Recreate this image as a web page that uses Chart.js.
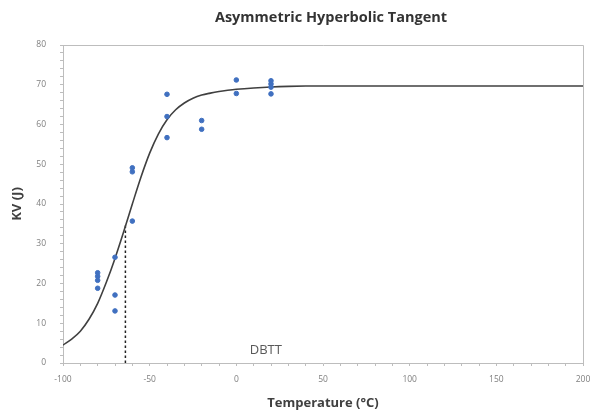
<!DOCTYPE html>
<html>
<head>
<meta charset="utf-8">
<script src="https://cdn.jsdelivr.net/npm/chart.js@4/dist/chart.umd.min.js"></script>
<style>
  html, body { margin: 0; padding: 0; background: #ffffff; }
  #wrap { width: 592px; height: 412px; position: relative; }
</style>
</head>
<body>
<div id="wrap"><canvas id="c" width="592" height="412"></canvas></div>
<script>
// Observed Charpy impact energies
const obsTemps = [-80, -80, -80, -80, -70, -70, -70, -60, -60, -60, -40, -40, -40, -20, -20, 0, 0, 20, 20, 20, 20];
const obsKV    = [22.7, 21.8, 20.8, 18.8, 26.6, 17.1, 13.1, 49.1, 48.1, 35.7, 67.6, 62.0, 56.7, 61.0, 58.8, 71.2, 67.8, 71.0, 70.2, 69.4, 67.7];

// Fitted curve
const curveTemps = [-100, -95, -90, -85, -80, -75, -70, -65, -60, -55, -50, -45, -40, -35, -30, -25, -20, -15, -10, -5, 0, 10, 20, 30, 40, 60, 100, 150, 200];
const curveKV    = [4.5, 6.0, 8.0, 11.0, 15.0, 20.3, 26.3, 33.0, 40.0, 46.8, 52.8, 57.6, 61.2, 63.7, 65.4, 66.6, 67.4, 67.9, 68.3, 68.6, 68.85, 69.2, 69.45, 69.6, 69.68, 69.7, 69.7, 69.7, 69.7];

// DBTT marker
const dbttTemp = [-64, -64];
const dbttKV = [0, 34.9];
const dbttLabel = 'DBTT';
const dbttLabelPos = [17, 3.3];

// Texts
const chartTitle = 'Asymmetric Hyperbolic Tangent';
const xTitle = 'Temperature (°C)';
const yTitle = 'KV (J)';

// Axis ticks
const xTickLabels = [-100, -50, 0, 50, 100, 150, 200];
const yTickLabels = [0, 10, 20, 30, 40, 50, 60, 70, 80];

const toXY = (xs, ys) => xs.map((x, i) => ({ x: x, y: ys[i] }));

const framePlugin = {
  id: 'frame',
  afterDatasetsDraw(chart) {
    const { ctx, chartArea: a, scales } = chart;
    ctx.save();
    ctx.strokeStyle = '#bdbdbd';
    ctx.lineWidth = 1;
    ctx.beginPath();
    ctx.moveTo(a.left, a.top + 0.5);
    ctx.lineTo(a.right + 0.5, a.top + 0.5);
    ctx.lineTo(a.right + 0.5, a.bottom);
    ctx.stroke();
    // DBTT label
    ctx.fillStyle = '#595959';
    ctx.font = '13px "Open Sans", "Liberation Sans", sans-serif';
    ctx.textAlign = 'center';
    ctx.textBaseline = 'middle';
    ctx.fillText(dbttLabel, scales.x.getPixelForValue(dbttLabelPos[0]), scales.y.getPixelForValue(dbttLabelPos[1]));
    // Chart title
    ctx.fillStyle = '#333333';
    ctx.font = 'bold 14.5px "Open Sans", "Liberation Sans", sans-serif';
    ctx.fillText(chartTitle, 331, 18);
    ctx.restore();
  }
};

const tickFont = { family: '"Open Sans", "Liberation Sans", sans-serif', size: 8.5 };
const titleFont = { family: '"Open Sans", "Liberation Sans", sans-serif', size: 13, weight: 'bold' };

new Chart(document.getElementById('c'), {
  type: 'scatter',
  data: {
    datasets: [
      {
        type: 'line',
        data: toXY(curveTemps, curveKV),
        borderColor: '#404040',
        borderWidth: 1.6,
        pointRadius: 0,
        cubicInterpolationMode: 'monotone',
        fill: false,
        order: 2
      },
      {
        type: 'line',
        data: toXY(dbttTemp, dbttKV),
        borderColor: '#222222',
        borderWidth: 1.5,
        borderDash: [2.5, 2.5],
        pointRadius: 0,
        fill: false,
        order: 3
      },
      {
        data: toXY(obsTemps, obsKV),
        backgroundColor: '#4070c0',
        borderColor: '#4070c0',
        pointRadius: 2.3,
        order: 1
      }
    ]
  },
  options: {
    responsive: false,
    animation: false,
    devicePixelRatio: 1,
    layout: { padding: { left: 0, right: 9, top: 45, bottom: 0 } },
    plugins: {
      legend: { display: false },
      tooltip: { enabled: false },
      title: { display: false }
    },
    scales: {
      x: {
        type: 'linear',
        min: -100,
        max: 200,
        afterFit: s => { s.height = 49; s.paddingLeft = 0; s.paddingRight = 0; },
        afterBuildTicks: s => { const t = []; for (let v = -100; v <= 200; v += 10) t.push({ value: v }); s.ticks = t; },
        ticks: {
          autoSkip: false,
          maxRotation: 0,
          color: '#7f7f7f',
          font: tickFont,
          padding: 8,
          callback: v => xTickLabels.includes(v) ? String(v) : ''
        },
        grid: { display: true, drawOnChartArea: false, drawTicks: true, tickLength: 3, color: '#bdbdbd' },
        border: { display: true, color: '#bdbdbd', width: 1 },
        title: {
          display: true,
          text: xTitle,
          color: '#404040',
          font: titleFont,
          padding: { top: 0, bottom: 1.2 }
        }
      },
      y: {
        min: 0,
        max: 80,
        afterFit: s => { s.width = 63; s.paddingTop = 0; s.paddingBottom = 0; },
        afterBuildTicks: s => { const t = []; for (let v = 0; v <= 80; v += 2) t.push({ value: v }); s.ticks = t; },
        ticks: {
          autoSkip: false,
          color: '#7f7f7f',
          font: tickFont,
          padding: 14,
          callback: v => yTickLabels.includes(v) ? String(v) : ''
        },
        grid: { display: true, drawOnChartArea: false, drawTicks: true, tickLength: 3, color: '#bdbdbd' },
        border: { display: true, color: '#bdbdbd', width: 1 },
        title: {
          display: true,
          text: yTitle,
          color: '#404040',
          font: titleFont,
          padding: { top: 9.2, bottom: 0 }
        }
      }
    }
  },
  plugins: [framePlugin]
});
</script>
</body>
</html>
